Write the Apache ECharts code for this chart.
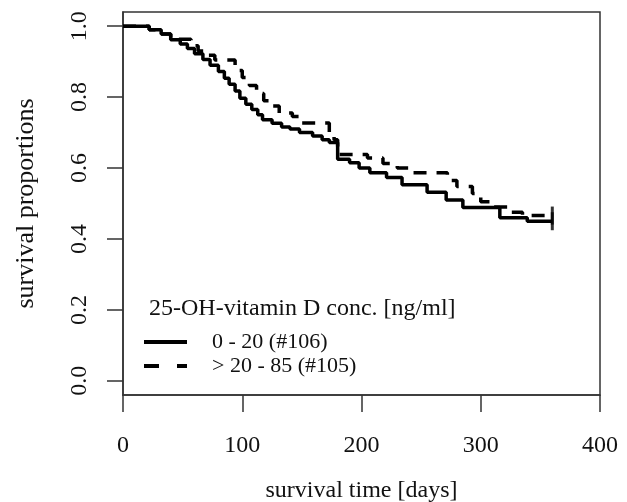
<!DOCTYPE html>
<html>
<head>
<meta charset="utf-8">
<script src="https://cdn.jsdelivr.net/npm/echarts@6/dist/echarts.min.js"></script>
<style>
html,body{margin:0;padding:0;background:#fff;}
#chart{width:627px;height:502px;}
</style>
</head>
<body>
<div id="chart"></div>
<script>
// Group "0 - 20 (#106)" (solid)
const timeLow = [0, 22, 32, 40, 48, 54, 60, 67, 73, 80, 85, 89, 94, 98, 103, 108, 113, 117, 125, 133, 140, 148, 159, 167, 173, 180, 190, 198, 207, 221, 234, 255, 271, 285, 316, 339, 360];
const survLow = [1.0, 0.99, 0.978, 0.962, 0.95, 0.937, 0.922, 0.906, 0.89, 0.872, 0.853, 0.836, 0.817, 0.797, 0.78, 0.765, 0.75, 0.736, 0.726, 0.716, 0.71, 0.70, 0.69, 0.68, 0.672, 0.625, 0.615, 0.60, 0.587, 0.573, 0.553, 0.532, 0.51, 0.489, 0.46, 0.45, 0.45];
// Group "> 20 - 85 (#105)" (dashed)
const timeHigh = [0, 22, 32, 40, 57, 63, 70, 77, 94, 100, 106, 112, 118, 125, 131, 142, 149, 173, 177, 180, 205, 218, 230, 240, 272, 280, 293, 300, 310, 325, 335, 360];
const survHigh = [1.0, 0.99, 0.978, 0.963, 0.945, 0.93, 0.918, 0.905, 0.875, 0.855, 0.833, 0.81, 0.79, 0.775, 0.755, 0.745, 0.727, 0.70, 0.68, 0.638, 0.628, 0.613, 0.6, 0.587, 0.565, 0.548, 0.528, 0.505, 0.49, 0.475, 0.466, 0.466];

const xTicks = [0, 100, 200, 300, 400];
const yTicks = [0, 0.2, 0.4, 0.6, 0.8, 1.0];
const seriesNames = ['0 - 20 (#106)', '> 20 - 85 (#105)'];
const legendTitle = '25-OH-vitamin D conc. [ng/ml]';
const xTitle = 'survival time [days]';
const yTitle = 'survival proportions';

const FONT = '"Liberation Serif", "Times New Roman", serif';
const zip = (a, b) => a.map((t, i) => [t, b[i]]);

const chart = echarts.init(document.getElementById('chart'), null, {renderer: 'canvas'});
chart.setOption({
  animation: false,
  backgroundColor: '#fff',
  title: {
    text: legendTitle,
    left: 149, top: 297, padding: 0,
    textStyle: {fontFamily: FONT, fontSize: 24, fontWeight: 'normal', color: '#111'}
  },
  legend: {
    data: [
      {name: seriesNames[0], lineStyle: {type: 'solid', width: 4, color: '#000'}},
      {name: seriesNames[1], lineStyle: {type: [15, 18], width: 4, color: '#000'}}
    ],
    orient: 'vertical', left: 142, top: 331, padding: 0,
    itemWidth: 43, itemHeight: 24, itemGap: 2,
    itemStyle: {opacity: 0},
    textStyle: {fontFamily: FONT, fontSize: 22, color: '#111', padding: [0, 0, 0, 20]}
  },
  grid: {left: 123, right: 27, top: 12, bottom: 107, outerBoundsMode: 'none', containLabel: false,
    show: true, borderColor: '#333', borderWidth: 1.5, backgroundColor: 'transparent'},
  xAxis: {
    type: 'value', min: xTicks[0], max: xTicks[xTicks.length - 1], interval: 100,
    name: xTitle, nameLocation: 'middle', nameGap: 84,
    nameTextStyle: {fontFamily: FONT, fontSize: 24, color: '#111'},
    axisLine: {show: true, onZero: false, lineStyle: {color: '#333', width: 1.5}},
    axisTick: {show: true, inside: false, length: 17, lineStyle: {color: '#333', width: 1.5}},
    axisLabel: {fontFamily: FONT, fontSize: 24, color: '#111', margin: 39},
    splitLine: {show: false}
  },
  yAxis: {
    type: 'value', min: -0.04, max: 1.04,
    name: yTitle, nameLocation: 'middle', nameGap: 84,
    nameTextStyle: {fontFamily: FONT, fontSize: 26, color: '#111'},
    axisLine: {show: true, onZero: false, lineStyle: {color: '#333', width: 1.5}},
    axisTick: {show: true, inside: false, length: 16, customValues: yTicks, lineStyle: {color: '#333', width: 1.5}},
    axisLabel: {fontFamily: FONT, fontSize: 24, color: '#111', rotate: 90, margin: 31,
      customValues: yTicks, formatter: v => v.toFixed(1)},
    splitLine: {show: false}
  },
  series: [
    {
      name: seriesNames[0], type: 'line', step: 'end', showSymbol: false, symbol: 'none',
      data: zip(timeLow, survLow),
      lineStyle: {color: '#000', width: 3.5, type: 'solid'},
      itemStyle: {color: '#000'}
    },
    {
      name: seriesNames[1], type: 'line', step: 'end', showSymbol: false, symbol: 'none',
      data: zip(timeHigh, survHigh),
      lineStyle: {color: '#000', width: 3.5, type: [13, 10]},
      itemStyle: {color: '#000'}
    },
    {
      name: 'censor', type: 'scatter', symbol: 'rect', symbolSize: [3, 18],
      data: [[timeLow[timeLow.length - 1], survLow[survLow.length - 1]], [timeHigh[timeHigh.length - 1], survHigh[survHigh.length - 1]]],
      itemStyle: {color: '#000'}, silent: true
    }
  ]
});
</script>
</body>
</html>
